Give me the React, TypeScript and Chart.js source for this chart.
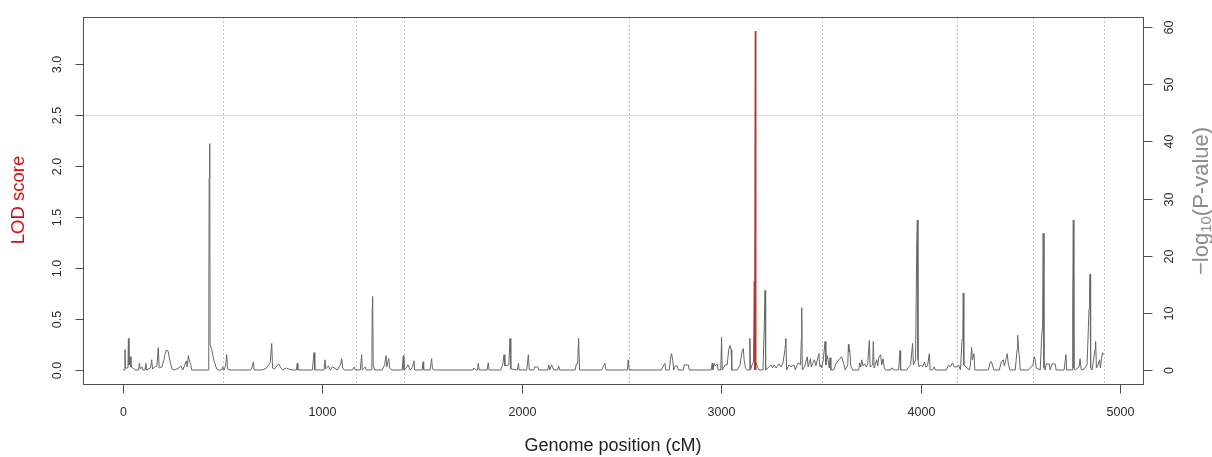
import { useEffect, useRef } from "react";
import { Chart, registerables } from "chart.js";

Chart.register(...registerables);

// Marker map position (cM) and LOD score of the genome scan
const markerPositions = [
  0, 8, 10, 12, 25, 27, 30, 36, 40, 50, 60, 78, 82, 86, 95, 100, 110, 115, 118, 138, 144, 148, 160, 170, 177, 181, 195, 205, 215, 225, 235, 245, 260, 280, 290, 300, 310, 318, 322, 328, 332, 340, 345, 430, 432, 435, 437, 445, 455, 470, 478, 495, 500, 508, 515, 520, 524, 530,
  560, 640, 648, 654, 658, 700, 720, 730, 738, 746, 750, 760, 780, 790, 800, 820, 830, 850, 870, 874, 877, 950, 958, 962, 1008, 1013, 1017, 1030, 1040, 1050, 1060, 1075, 1090, 1097, 1102, 1110, 1150, 1160, 1165,
  1190, 1197, 1200, 1215, 1220, 1248, 1250, 1252, 1255, 1262, 1300, 1312, 1319, 1323, 1333, 1337, 1350, 1400, 1406, 1409,
  1420, 1430, 1440, 1452, 1459, 1463, 1500, 1505, 1508, 1540, 1548, 1552, 1560, 1755, 1760, 1770, 1778, 1782, 1786, 1826, 1832, 1836, 1895, 1905, 1911, 1915, 1935, 1941, 1945, 1978, 1983, 1987, 2025, 2033, 2038, 2060, 2065, 2080, 2085, 2130, 2136, 2140, 2150, 2160, 2180, 2185, 2190, 2268, 2274, 2280, 2285, 2290, 2400, 2410, 2417, 2422, 2530, 2534, 2538, 2542,
  2700, 2710, 2718, 2722, 2740, 2745, 2751, 2757, 2762, 2770, 2780, 2785, 2810, 2815, 2835, 2840, 2950, 2955, 2958, 2965, 2970, 2980, 2985, 2998, 3002, 3005, 3020, 3030, 3038, 3044, 3050, 3053, 3080, 3095, 3105, 3111, 3115, 3122, 3130, 3140, 3144, 3147, 3155, 3162, 3166, 3168, 3175, 3182, 3190, 3210, 3217, 3220, 3223, 3240, 3250, 3258, 3265, 3275, 3290, 3300, 3310, 3320, 3325, 3328, 3340, 3350, 3365, 3372, 3385, 3398, 3402, 3404, 3407, 3420, 3432, 3436, 3448, 3452, 3460, 3468, 3475, 3485, 3490, 3495, 3500, 3505,
  3512, 3521, 3525, 3532, 3536, 3542, 3546, 3550, 3565, 3575, 3590, 3604, 3615, 3622, 3635, 3638, 3641, 3645, 3650, 3660, 3690, 3695, 3700, 3705, 3712, 3720, 3728, 3735, 3743, 3747, 3760, 3763, 3767, 3780, 3785, 3790, 3800, 3805, 3812, 3818, 3825, 3850, 3855, 3870, 3890, 3897, 3900, 3930, 3940, 3950, 3960, 3964, 3975, 3981, 3984, 3987, 3992, 4000, 4010, 4020, 4026, 4035, 4044, 4048, 4060, 4068, 4075, 4130, 4140, 4150, 4160, 4170, 4182,
  4190, 4200, 4208, 4212, 4214, 4217, 4222, 4245, 4250, 4256, 4260, 4268, 4272, 4340, 4350, 4356, 4360, 4368, 4395, 4405, 4415, 4420, 4430, 4435, 4440, 4448, 4475, 4484, 4487, 4491, 4495, 4500, 4540, 4555, 4564,
  4570, 4575, 4580, 4600, 4608, 4612, 4615, 4619, 4625, 4630, 4645, 4650, 4660, 4675, 4680, 4720, 4729, 4733, 4760, 4763, 4766, 4769, 4775, 4795, 4800, 4805, 4815, 4835, 4845, 4848, 4850, 4853, 4860, 4875, 4878, 4882, 4890, 4898, 4902, 4908, 4913, 4917,
];

const markerLod = [
  0, 0, 0.2, 0.02, 0.02, 0.31, 0.05, 0.13, 0.03, 0.02, 0, 0, 0.065, 0.01, 0.03, 0, 0, 0.065, 0, 0.02, 0.1, 0.01, 0.03, 0.04, 0.22, 0.02, 0.03, 0.1, 0.19, 0.19, 0.1, 0.01, 0, 0.02, 0.04, 0, 0.05, 0.09, 0.03, 0.14, 0.1, 0.05, 0, 0, 1.88, 2.22, 0.25, 0.2, 0.1, 0.01, 0, 0, 0.03, 0, 0.05, 0.15, 0.02, 0,
  0, 0, 0.03, 0.08, 0, 0, 0.02, 0.05, 0.07, 0.26, 0.02, 0.01, 0.06, 0.03, 0, 0.02, 0.01, 0, 0, 0.065, 0, 0, 0.17, 0, 0, 0.1, 0.01, 0.04, 0, 0.03, 0.02, 0, 0.05, 0.11, 0.02, 0, 0, 0.03, 0,
  0, 0.15, 0, 0.03, 0, 0, 0.62, 0.72, 0.05, 0, 0, 0.05, 0.14, 0.03, 0.11, 0.02, 0, 0, 0.14, 0,
  0.02, 0.05, 0, 0.03, 0.09, 0, 0, 0.08, 0, 0, 0.11, 0.01, 0, 0, 0.02, 0, 0, 0.065, 0, 0, 0.07, 0, 0, 0.06, 0.15, 0.04, 0.05, 0.31, 0.01, 0, 0.065, 0, 0, 0.15, 0, 0, 0.03, 0.03, 0, 0, 0.05, 0, 0.05, 0, 0, 0.04, 0, 0, 0.06, 0.06, 0.31, 0, 0, 0.04, 0.065, 0, 0, 0.1, 0.01, 0,
  0, 0.04, 0.065, 0, 0, 0.1, 0.16, 0.1, 0, 0.04, 0.04, 0, 0, 0.05, 0.05, 0, 0, 0.065, 0, 0.065, 0.04, 0.06, 0, 0, 0.32, 0, 0.05, 0.05, 0.2, 0.24, 0.2, 0, 0, 0.05, 0.19, 0.21, 0.1, 0.02, 0, 0, 0.31, 0, 0.05, 0.08, 0.87, 0.05, 0.07, 0.03, 0, 0, 0.5, 0.78, 0, 0.03, 0.05, 0.02, 0.05, 0.02, 0.06, 0.03, 0.07, 0.2, 0.31, 0, 0.05, 0.03, 0.05, 0, 0.07, 0.05, 0.3, 0.61, 0, 0.04, 0.13, 0.03, 0.11, 0.03, 0.07, 0.1, 0.04, 0.12, 0.16, 0.03, 0.05, 0.02,
  0.1, 0.28, 0.05, 0.14, 0.1, 0.02, 0.12, 0, 0, 0.06, 0.1, 0.13, 0.06, 0, 0.05, 0.25, 0.18, 0.2, 0.04, 0, 0, 0.07, 0.03, 0.1, 0.04, 0.06, 0.03, 0.06, 0.29, 0.03, 0.05, 0.28, 0.02, 0.1, 0.04, 0.12, 0.15, 0.05, 0.11, 0.02, 0, 0, 0.02, 0, 0, 0.19, 0, 0, 0.03, 0.05, 0.26, 0.05, 0.1, 1.25, 1.47, 0.1, 0.03, 0.05, 0.03, 0.08, 0.03, 0.04, 0.16, 0, 0, 0.03, 0, 0, 0.05, 0.03, 0.07, 0.03, 0.03,
  0.05, 0, 0.3, 0.32, 0.755, 0.05, 0.04, 0, 0.05, 0.22, 0.1, 0.16, 0, 0, 0.08, 0.08, 0.05, 0, 0, 0.08, 0.1, 0.04, 0.12, 0.16, 0.06, 0, 0, 0.2, 0.34, 0.2, 0.15, 0, 0, 0.03, 0.05,
  0.13, 0.1, 0.02, 0, 0.35, 0.42, 1.34, 0.02, 0, 0.06, 0.06, 0, 0.06, 0.06, 0, 0, 0.15, 0, 0, 0.6, 1.47, 0.02, 0, 0.03, 0.11, 0.01, 0, 0.05, 0.6, 0.82, 0.94, 0.02, 0, 0.2, 0.28, 0.02, 0.05, 0.1, 0.02, 0.12, 0.17, 0.15,
];

// Single significant association signal, -log10(P)
const assocPositions = [3168, 3171, 3174];
const assocLogP = [0, 59.3, 0];

// Chromosome ends (cM) and significance threshold
const chromBoundaries = [501, 1168, 1409, 2538, 3505, 4182, 4564, 4920];
const lodThreshold = 2.5;

// Axis ticks
const xTicks = [0, 1000, 2000, 3000, 4000, 5000];
const lodTicks = [0, 0.5, 1, 1.5, 2, 2.5, 3];
const lodTickLabels = ["0.0", "0.5", "1.0", "1.5", "2.0", "2.5", "3.0"];
const logPTicks = [0, 10, 20, 30, 40, 50, 60];

const FONT = "'Liberation Sans', Arial, Helvetica, sans-serif";

function rotatedText(ctx: CanvasRenderingContext2D, text: string, x: number, y: number) {
  ctx.save();
  ctx.translate(x, y);
  ctx.rotate(-Math.PI / 2);
  ctx.fillText(text, 0, 0);
  ctx.restore();
}

const framePlugin = {
  id: "rframe",
  beforeDatasetsDraw(chart: any) {
    const { ctx, chartArea: a, scales } = chart;
    ctx.save();
    ctx.lineWidth = 1;
    ctx.strokeStyle = "#c4c4c4";
    ctx.setLineDash([2, 2]);
    chromBoundaries.forEach((b) => {
      const x = Math.round(scales.x.getPixelForValue(b)) + 0.5;
      ctx.beginPath();
      ctx.moveTo(x, a.top);
      ctx.lineTo(x, a.bottom);
      ctx.stroke();
    });
    ctx.strokeStyle = "#dadada";
    ctx.setLineDash([]);
    const ty = Math.round(scales.y.getPixelForValue(lodThreshold)) + 0.5;
    ctx.beginPath();
    ctx.moveTo(a.left, ty);
    ctx.lineTo(a.right, ty);
    ctx.stroke();
    ctx.restore();
  },
  afterDatasetsDraw(chart: any) {
    const { ctx, chartArea: a, scales } = chart;
    ctx.save();
    ctx.lineWidth = 1;
    ctx.strokeStyle = "#505050";
    ctx.strokeRect(Math.round(a.left) + 0.5, Math.round(a.top) + 0.5, Math.round(a.right - a.left), Math.round(a.bottom - a.top));

    ctx.fillStyle = "#2a2a2a";
    ctx.font = `12.5px ${FONT}`;
    ctx.textAlign = "center";
    ctx.textBaseline = "middle";

    // bottom axis
    const by = Math.round(a.bottom) + 0.5;
    xTicks.forEach((t) => {
      const x = Math.round(scales.x.getPixelForValue(t)) + 0.5;
      ctx.beginPath();
      ctx.moveTo(x, by);
      ctx.lineTo(x, by + 9);
      ctx.stroke();
      ctx.fillText(String(t), x, 413);
    });

    // left axis (LOD)
    const lx = Math.round(a.left) + 0.5;
    lodTicks.forEach((t, i) => {
      const y = Math.round(scales.y.getPixelForValue(t)) + 0.5;
      ctx.beginPath();
      ctx.moveTo(lx - 8, y);
      ctx.lineTo(lx, y);
      ctx.stroke();
      rotatedText(ctx, lodTickLabels[i], 58, y);
    });

    // right axis (-log10 P)
    const rx = Math.round(a.right) + 0.5;
    logPTicks.forEach((t) => {
      const y = Math.round(scales.y2.getPixelForValue(t)) + 0.5;
      ctx.beginPath();
      ctx.moveTo(rx, y);
      ctx.lineTo(rx + 9, y);
      ctx.stroke();
      rotatedText(ctx, String(t), 1170, y);
    });

    // axis titles
    ctx.fillStyle = "#222";
    ctx.font = `18px ${FONT}`;
    ctx.fillText("Genome position (cM)", 613, 446);

    ctx.fillStyle = "#d01010";
    ctx.font = `18.5px ${FONT}`;
    rotatedText(ctx, "LOD score", 19, 200);

    // right title with subscript
    ctx.fillStyle = "#8c8c8c";
    const big = `22px ${FONT}`;
    const small = `15px ${FONT}`;
    const parts = [
      { t: "\u2212log", f: big, dy: 0 },
      { t: "10", f: small, dy: 5 },
      { t: "(P-value)", f: big, dy: 0 },
    ];
    let total = 0;
    parts.forEach((p) => {
      ctx.font = p.f;
      total += ctx.measureText(p.t).width;
    });
    ctx.save();
    ctx.translate(1202, 201);
    ctx.rotate(-Math.PI / 2);
    ctx.textAlign = "left";
    let cx = -total / 2;
    parts.forEach((p) => {
      ctx.font = p.f;
      ctx.fillText(p.t, cx, p.dy);
      cx += ctx.measureText(p.t).width;
    });
    ctx.restore();

    ctx.restore();
  },
};

export default function App() {
  const canvasRef = useRef<HTMLCanvasElement | null>(null);

  useEffect(() => {
    const canvas = canvasRef.current;
    if (!canvas) return;
    const lodData = markerPositions.map((x, i) => ({ x, y: markerLod[i] }));
    const assocData = assocPositions.map((x, i) => ({ x, y: assocLogP[i] }));

    const chart = new Chart(canvas, {
      type: "line",
      data: {
        datasets: [
          {
            label: "-log10(P-value)",
            data: assocData,
            yAxisID: "y2",
            borderColor: "#b3352c",
            borderWidth: 1.2,
            pointRadius: 0,
            tension: 0,
          },
          {
            label: "LOD score",
            data: lodData,
            yAxisID: "y",
            borderColor: "#666666",
            borderWidth: 1,
            pointRadius: 0,
            tension: 0,
          },
        ],
      },
      options: {
        responsive: false,
        animation: false,
        devicePixelRatio: 1,
        layout: { padding: { left: 83, right: 69, top: 17, bottom: 73 } },
        plugins: {
          legend: { display: false },
          tooltip: { enabled: false },
        },
        scales: {
          x: { type: "linear", min: -200.6, max: 5115.6, display: false },
          y: { type: "linear", min: -0.1373, max: 3.4608, display: false },
          y2: { type: "linear", position: "right", min: -2.449, max: 61.75, display: false },
        },
      },
      plugins: [framePlugin],
    });
    return () => chart.destroy();
  }, []);

  return (
    <div style={{ position: "fixed", left: 0, top: 0, width: 1212, height: 457, background: "#fff" }}>
      <canvas ref={canvasRef} width={1212} height={457} style={{ display: "block" }} />
    </div>
  );
}
